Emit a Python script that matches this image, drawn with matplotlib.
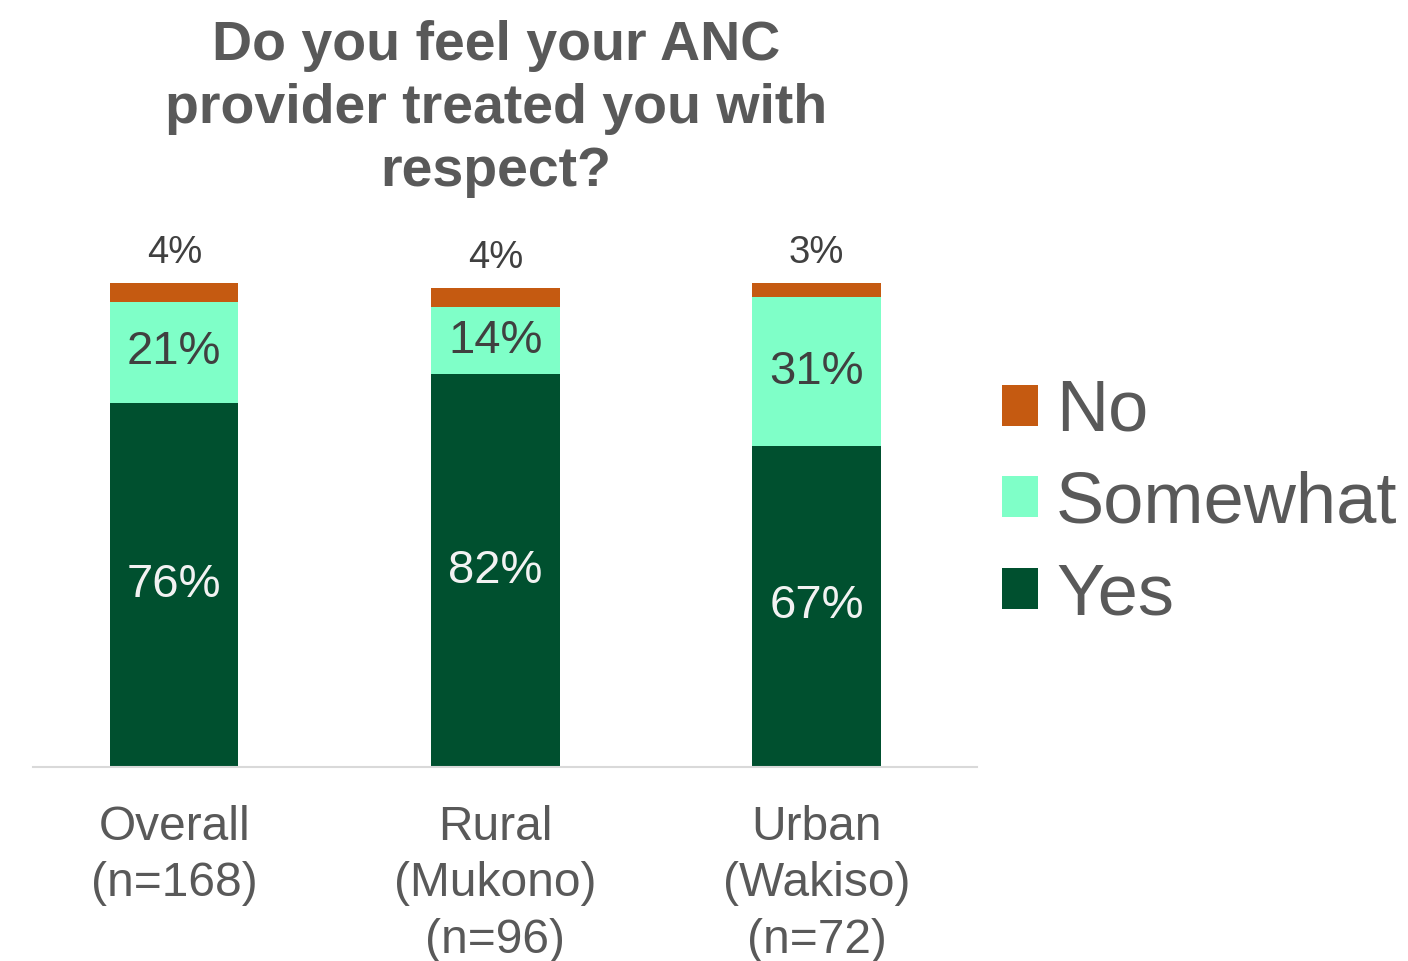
import numpy as np
import matplotlib.pyplot as plt

plt.rcParams['font.family'] = ['Liberation Sans', 'DejaVu Sans']

categories = ['Overall\n(n=168)', 'Rural\n(Mukono)\n(n=96)', 'Urban\n(Wakiso)\n(n=72)']
yes = [76, 82, 67]
somewhat = [21, 14, 31]
no = [4, 4, 3]

c_yes = '#00502F'
c_some = '#7FFFC8'
c_no = '#C55A11'
gray = '#595959'

fig = plt.figure(figsize=(14.08, 9.61), dpi=100)
ax = fig.add_axes([33 / 1408, 1 - 767 / 961, (977 - 33) / 1408, (767 - 283) / 961])

x = np.arange(len(categories))
w = 0.4
b1 = ax.bar(x, yes, w, color=c_yes, label='Yes')
b2 = ax.bar(x, somewhat, w, bottom=yes, color=c_some, label='Somewhat')
bot3 = np.array(yes) + np.array(somewhat)
b3 = ax.bar(x, no, w, bottom=bot3, color=c_no, label='No')

for i in range(len(x)):
    ax.text(x[i], yes[i] / 2, f'{yes[i]}%', ha='center', va='center',
            color='#F2F2F2', fontsize=34)
    ax.text(x[i], yes[i] + somewhat[i] / 2, f'{somewhat[i]}%', ha='center',
            va='center', color='#404040', fontsize=34)
    ax.text(x[i], bot3[i] + no[i] + 2.5, f'{no[i]}%', ha='center',
            va='bottom', color='#404040', fontsize=27.5, clip_on=False)

ax.set_xlim(-0.44, 2.5)
ax.set_ylim(0, 101)
ax.set_xticks(x)
ax.set_xticklabels(categories, fontsize=34.5, color=gray, linespacing=1.33)
ax.tick_params(axis='x', length=0, pad=27)
ax.set_yticks([])
for s in ['top', 'right', 'left']:
    ax.spines[s].set_visible(False)
ax.spines['bottom'].set_color('#D9D9D9')
ax.spines['bottom'].set_linewidth(1.5)

fig.text(496 / 1408, 1 - 20 / 961,
         'Do you feel your ANC\nprovider treated you with\nrespect?',
         ha='center', va='top', fontsize=40, fontweight='bold', color=gray,
         linespacing=1.28)

handles = [b3, b2, b1]
leg = fig.legend(handles, ['No', 'Somewhat', 'Yes'], loc='center left',
                 bbox_to_anchor=(1002 / 1408, 1 - 504 / 961), frameon=False,
                 fontsize=52, handlelength=0.5, handleheight=0.5,
                 handletextpad=0.25, labelspacing=0.34, borderaxespad=0,
                 borderpad=0)
for t in leg.get_texts():
    t.set_color(gray)

fig.savefig('out.png', dpi=100)
